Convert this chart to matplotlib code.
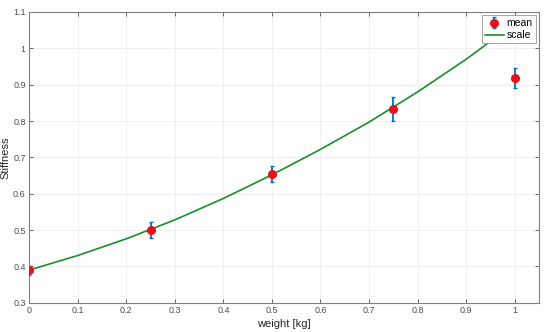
import numpy as np
import matplotlib
matplotlib.use("Agg")
import matplotlib.pyplot as plt
from matplotlib.ticker import FuncFormatter

# measured points
weight = [0, 0.25, 0.5, 0.75, 1.0]
stiff_mean = [0.389, 0.500, 0.655, 0.833, 0.918]
stiff_err = [0.012, 0.022, 0.022, 0.033, 0.028]

# fitted scale curve
scale_x = [0, 0.1, 0.2, 0.3, 0.4, 0.5, 0.6, 0.7, 0.8, 0.9, 1.0]
scale_y = [0.390, 0.430, 0.476, 0.528, 0.587, 0.652, 0.722, 0.797, 0.880, 0.970, 1.068]

xticks = [0, 0.1, 0.2, 0.3, 0.4, 0.5, 0.6, 0.7, 0.8, 0.9, 1.0]
yticks = [0.3, 0.4, 0.5, 0.6, 0.7, 0.8, 0.9, 1.0, 1.1]

plt.rcParams['font.family'] = ['Liberation Sans', 'DejaVu Sans']

fig = plt.figure(figsize=(5.5, 3.32), dpi=100)
ax = fig.add_axes([0.053, 0.088, 0.927, 0.876])

eb = ax.errorbar(weight, stiff_mean, yerr=stiff_err, fmt='o', color='#0072BD',
                 ecolor='#0072BD', elinewidth=1.3, capsize=1.5, capthick=1.0,
                 markerfacecolor='#e8101a', markeredgecolor='#e8101a', markersize=5.5,
                 label='mean', zorder=3)
ln, = ax.plot(scale_x, scale_y, color='#1a8f2a', lw=1.2, label='scale', zorder=2)

ax.set_xlim(0, 1.05)
ax.set_ylim(0.3, 1.1)
ax.set_xticks(xticks)
ax.set_yticks(yticks)
fmt = FuncFormatter(lambda v, p: ('%g' % round(v, 2)))
ax.xaxis.set_major_formatter(fmt)
ax.yaxis.set_major_formatter(fmt)
ax.tick_params(direction='in', length=3, width=0.6, labelsize=6.5, pad=2.5,
               colors='#4d4d4d', top=True, right=True)
ax.grid(True, color='#ececec', lw=0.6)
ax.set_axisbelow(True)
for s in ax.spines.values():
    s.set_color('#808080')
    s.set_linewidth(0.8)

ax.set_xlabel('weight [kg]', fontsize=8, color='#262626', labelpad=3)
ax.set_ylabel('Stiffness', fontsize=8, color='#262626', labelpad=2)

leg = ax.legend([eb, ln], ['mean', 'scale'], loc='upper right', fontsize=7.5,
                handlelength=1.8, handletextpad=0.3, borderpad=0.3,
                labelspacing=0.2, fancybox=False, framealpha=1, borderaxespad=0.3)
leg.get_frame().set_edgecolor('#999999')
leg.get_frame().set_linewidth(0.6)

fig.savefig('out.png', dpi=100)
